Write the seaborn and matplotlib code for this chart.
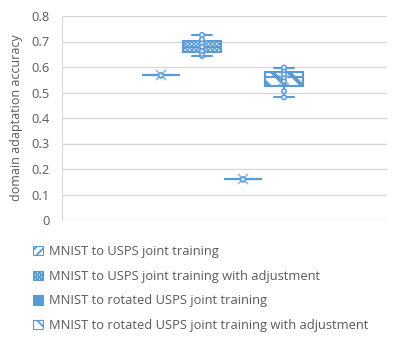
import matplotlib
matplotlib.use("Agg")
import matplotlib.pyplot as plt
import seaborn as sns
import pandas as pd
import numpy as np
from matplotlib.patches import Patch

series = [
    "MNIST to USPS joint training",
    "MNIST to USPS joint training with adjustment",
    "MNIST to rotated USPS joint training",
    "MNIST to rotated USPS joint training with adjustment",
]
s1_values = [0.567, 0.567, 0.567]
s2_values = [0.643, 0.651, 0.663, 0.680, 0.695, 0.709, 0.726]
s3_values = [0.159, 0.159, 0.159]
s4_values = [0.481, 0.505, 0.545, 0.560, 0.572, 0.588, 0.598]
yticks = [0, 0.1, 0.2, 0.3, 0.4, 0.5, 0.6, 0.7, 0.8]
ytick_labels = ["0", "0.1", "0.2", "0.3", "0.4", "0.5", "0.6", "0.7", "0.8"]

blue = "#5B9BD5"
grey_text = "#595959"
hatches = ["////", "xxxxxxxx", "", "\\\\"]
hatch_lw = [1.3, 0.9, 1.0, 2.8]


def set_hlw(p, lw):
    if hasattr(p, "set_hatch_linewidth"):
        p.set_hatch_linewidth(lw)
    p._hatch_linewidth = lw


rows = []
for name, vals in zip(series, [s1_values, s2_values, s3_values, s4_values]):
    for v in vals:
        rows.append({"series": name, "value": v})
df = pd.DataFrame(rows)

sns.set_style("white")
plt.rcParams["font.family"] = ["Open Sans", "DejaVu Sans"]
plt.rcParams["hatch.color"] = blue
plt.rcParams["hatch.linewidth"] = 1.3

fig = plt.figure(figsize=(3.96, 3.48), dpi=100)
ax = fig.add_axes([62 / 396, 1 - 220 / 348, (387 - 62) / 396, (220 - 16) / 348])

sns.boxplot(
    data=df, x="series", y="value", hue="series", order=series, hue_order=series,
    palette={s: "white" for s in series}, width=0.93, whis=(0, 100), dodge=False,
    linecolor=blue, linewidth=1.5, showmeans=True,
    meanprops=dict(marker="x", markeredgecolor="#8FBCE6", markersize=7, markeredgewidth=1.2),
    ax=ax, legend=False,
)
for patch in ax.patches:
    verts = patch.get_path().vertices
    idx = int(round(verts[:, 0].mean()))
    h = hatches[idx]
    patch.set_hatch(h)
    patch.set_edgecolor(blue)
    set_hlw(patch, hatch_lw[idx])
    if h == "":
        patch.set_facecolor(blue)

sns.stripplot(
    data=df, x="series", y="value", hue="series", order=series, hue_order=series,
    jitter=False, palette={s: "#DCE9F6" for s in series},
    edgecolor=blue, linewidth=1, size=3.3, ax=ax, legend=False,
)

step = 41.0
ax.set_xlim((62 - 161) / step, 3 + (387 - 284) / step)
ax.set_ylim(0, 0.8)
ax.set_yticks(yticks)
ax.set_yticklabels(ytick_labels)
ax.set_xticks([])
ax.set_xlabel("")
ax.set_ylabel("domain adaptation accuracy", color=grey_text, fontsize=9, labelpad=6)
ax.grid(axis="y", color="#D9D9D9", linewidth=1)
ax.set_axisbelow(True)
ax.tick_params(axis="y", length=0, pad=9, labelsize=9.3, labelcolor=grey_text)
for side in ["top", "right", "bottom"]:
    ax.spines[side].set_visible(False)
ax.spines["left"].set_color("#D9D9D9")

handles = []
for h, lw in zip(hatches, hatch_lw):
    p = Patch(facecolor=(blue if h == "" else "white"), edgecolor=blue, hatch=h, linewidth=0.8)
    set_hlw(p, min(lw, 1.6))
    handles.append(p)
fig.legend(handles, series, loc="upper left", bbox_to_anchor=(28 / 396, 1 - 240 / 348),
           frameon=False, fontsize=9.3, labelcolor=grey_text, handlelength=0.75,
           handleheight=0.75, handletextpad=0.5, labelspacing=0.9, borderaxespad=0)

fig.savefig("out.png", dpi=100)
